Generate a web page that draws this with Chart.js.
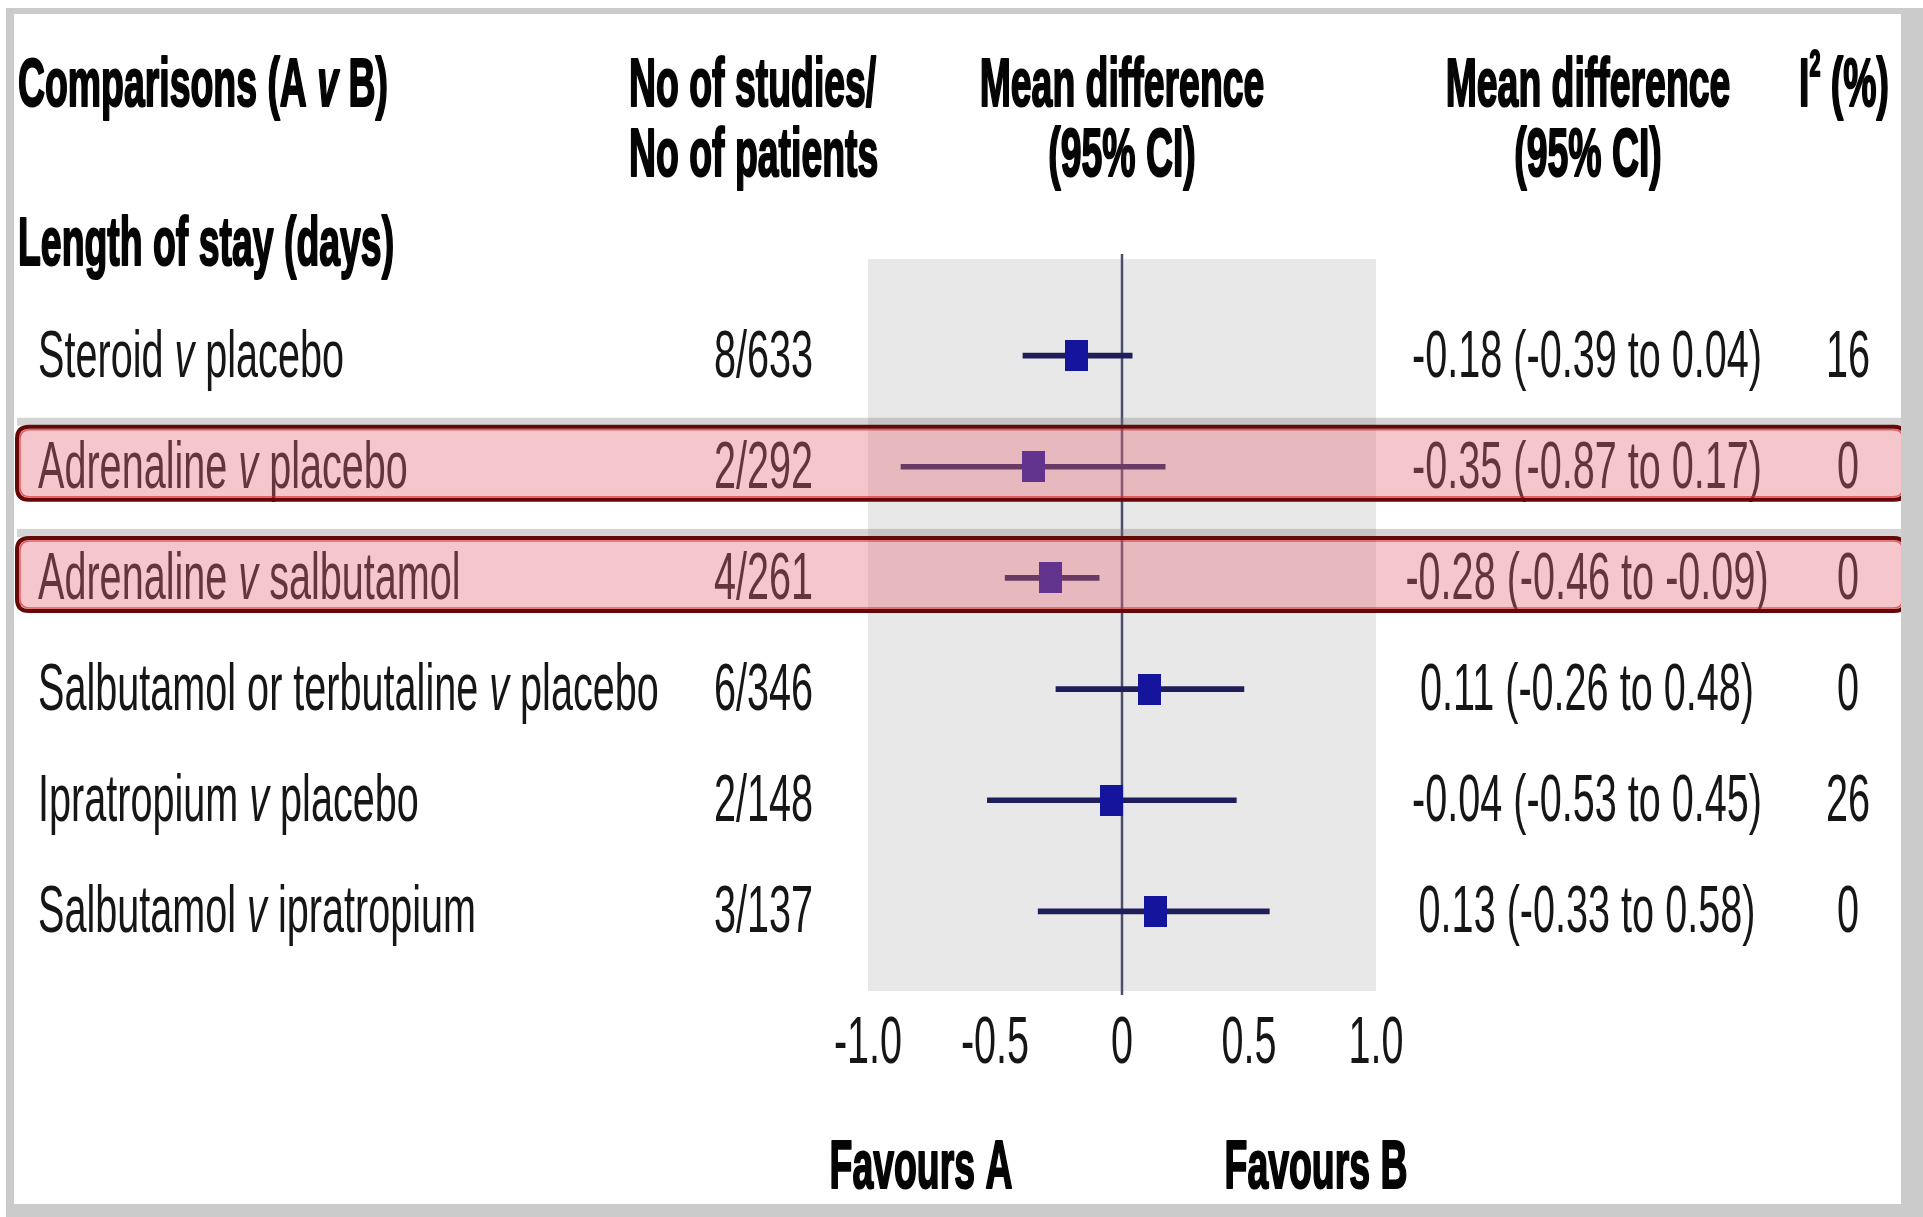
<!DOCTYPE html>
<html>
<head>
<meta charset="utf-8">
<title>Length of stay – network meta-analysis</title>
<script src="https://cdn.jsdelivr.net/npm/chart.js@4.4.1/dist/chart.umd.min.js"></script>
<style>
  html, body { margin: 0; padding: 0; background: #ffffff; }
  canvas { display: block; }
</style>
</head>
<body>
<canvas id="forest" width="1923" height="1217"></canvas>
<script>
// ---- Data -------------------------------------------------------------
const comparisons = [
  'Steroid v placebo',
  'Adrenaline v placebo',
  'Adrenaline v salbutamol',
  'Salbutamol or terbutaline v placebo',
  'Ipratropium v placebo',
  'Salbutamol v ipratropium'
];
const studiesPatients = ['8/633', '2/292', '4/261', '6/346', '2/148', '3/137'];
const meanDiff = [-0.18, -0.35, -0.28, 0.11, -0.04, 0.13];
const ciLower  = [-0.39, -0.87, -0.46, -0.26, -0.53, -0.33];
const ciUpper  = [ 0.04,  0.17, -0.09,  0.48,  0.45,  0.58];
const iSquared = [16, 0, 0, 0, 26, 0];
const highlighted = [false, true, true, false, false, false];
const tickValues = [-1, -0.5, 0, 0.5, 1];
const tickLabels = ['-1.0', '-0.5', '0', '0.5', '1.0'];

// ---- Text helpers (condensed face via horizontal scaling) ---------------
const FAMILY = '"Liberation Sans", Arial, Helvetica, sans-serif';
const REG = { size: 66, bold: false, sx: 0.6, color: '#161616', stroke: 0 };
const BOLD = { size: 68, bold: true, sx: 0.55, color: '#050505', stroke: 2.2 };

function fontOf(st, italic) {
  return (italic ? 'italic ' : '') + (st.bold ? 'bold ' : '') + st.size + 'px ' + FAMILY;
}

// segments: [{t: string, italic: bool, size?: number, dy?: number}]
function drawRich(ctx, segments, x, y, st, align) {
  ctx.save();
  let total = 0;
  const widths = segments.map(s => {
    ctx.font = fontOf(Object.assign({}, st, s.size ? { size: s.size } : {}), s.italic);
    const w = ctx.measureText(s.t).width * st.sx;
    total += w;
    return w;
  });
  let cx = align === 'center' ? x - total / 2 : align === 'right' ? x - total : x;
  ctx.fillStyle = st.color;
  ctx.strokeStyle = st.color;
  ctx.lineJoin = 'round';
  ctx.textBaseline = 'alphabetic';
  ctx.textAlign = 'left';
  segments.forEach((s, i) => {
    ctx.save();
    ctx.font = fontOf(Object.assign({}, st, s.size ? { size: s.size } : {}), s.italic);
    ctx.translate(cx, y + (s.dy || 0));
    ctx.scale(st.sx, 1);
    ctx.fillText(s.t, 0, 0);
    if (st.stroke) {
      ctx.lineWidth = st.stroke;
      ctx.strokeText(s.t, 0, 0);
    }
    ctx.restore();
    cx += widths[i];
  });
  ctx.restore();
  return total;
}

function drawText(ctx, str, x, y, st, align) {
  return drawRich(ctx, [{ t: str }], x, y, st, align);
}

// "A v B" style labels: the "v" is set in italics
function versusSegments(str) {
  const parts = str.split(' v ');
  if (parts.length !== 2) return [{ t: str }];
  return [{ t: parts[0] + ' ' }, { t: 'v', italic: true }, { t: ' ' + parts[1] }];
}

function fmt(v) {
  return v.toFixed(2);
}

function roundRect(ctx, x, y, w, h, r) {
  ctx.beginPath();
  ctx.moveTo(x + r, y);
  ctx.lineTo(x + w - r, y);
  ctx.quadraticCurveTo(x + w, y, x + w, y + r);
  ctx.lineTo(x + w, y + h - r);
  ctx.quadraticCurveTo(x + w, y + h, x + w - r, y + h);
  ctx.lineTo(x + r, y + h);
  ctx.quadraticCurveTo(x, y + h, x, y + h - r);
  ctx.lineTo(x, y + r);
  ctx.quadraticCurveTo(x, y, x + r, y);
  ctx.closePath();
}

// ---- Point marker: filled navy block ----------------------------------
const marker = document.createElement('canvas');
marker.width = 23;
marker.height = 31;
(function () {
  const m = marker.getContext('2d');
  m.fillStyle = '#14149c';
  m.fillRect(0, 0, 23, 31);
})();

// ---- Plugin: panel, zero line, table text, highlight boxes -------------
const forestPlugin = {
  id: 'forestTable',
  beforeDatasetsDraw(chart) {
    const ctx = chart.ctx;
    const xs = chart.scales.x;
    const area = chart.chartArea;
    const x0 = xs.getPixelForValue(-1);
    const x1 = xs.getPixelForValue(1);
    const top = area.top - 41;
    const bottom = area.bottom + 24;
    ctx.save();
    ctx.fillStyle = '#e8e8e8';
    ctx.fillRect(x0, top, x1 - x0, bottom - top);
    const zx = xs.getPixelForValue(0);
    ctx.strokeStyle = '#4d4d6e';
    ctx.lineWidth = 2.5;
    ctx.beginPath();
    ctx.moveTo(zx, top - 5);
    ctx.lineTo(zx, bottom + 4);
    ctx.stroke();
    ctx.restore();
  },
  afterDraw(chart) {
    const ctx = chart.ctx;
    const xs = chart.scales.x;
    const ys = chart.scales.y;

    // Column headings
    drawRich(ctx, [{ t: 'Comparisons (A ' }, { t: 'v', italic: true }, { t: ' B)' }], 18, 106, BOLD, 'left');
    drawText(ctx, 'No of studies/', 629, 106, BOLD, 'left');
    drawText(ctx, 'No of patients', 629, 176, BOLD, 'left');
    const mdX = xs.getPixelForValue(0);
    drawText(ctx, 'Mean difference', mdX, 106, BOLD, 'center');
    drawText(ctx, '(95% CI)', mdX, 176, BOLD, 'center');
    drawText(ctx, 'Mean difference', 1588, 106, BOLD, 'center');
    drawText(ctx, '(95% CI)', 1588, 176, BOLD, 'center');
    drawRich(ctx, [{ t: 'I' }, { t: '2', size: 36, dy: -30 }, { t: ' (%)' }], 1799, 106, BOLD, 'left');
    drawText(ctx, 'Length of stay (days)', 18, 265, BOLD, 'left');

    // Table rows
    comparisons.forEach((name, i) => {
      const y = ys.getPixelForValue(i) + 21;
      drawRich(ctx, versusSegments(name), 38, y, REG, 'left');
      drawText(ctx, studiesPatients[i], 813, y, REG, 'right');
      const est = fmt(meanDiff[i]) + ' (' + fmt(ciLower[i]) + ' to ' + fmt(ciUpper[i]) + ')';
      drawText(ctx, est, 1587, y, REG, 'center');
      drawText(ctx, String(iSquared[i]), 1848, y, REG, 'center');
    });

    // Axis tick labels
    tickValues.forEach((v, i) => {
      drawText(ctx, tickLabels[i], xs.getPixelForValue(v), 1063, REG, 'center');
    });
    drawText(ctx, 'Favours A', 921, 1188, BOLD, 'center');
    drawText(ctx, 'Favours B', 1316, 1188, BOLD, 'center');

    // Highlighted comparisons
    highlighted.forEach((on, i) => {
      if (!on) return;
      const cy = ys.getPixelForValue(i);
      const top = cy - 40;
      const h = 73;
      const left = 17;
      const right = 1906;
      ctx.save();
      ctx.fillStyle = 'rgba(120,120,120,0.32)';
      ctx.fillRect(left, top - 9, right - left, 8);
      roundRect(ctx, left, top, right - left, h, 12);
      ctx.fillStyle = 'rgba(228,105,118,0.38)';
      ctx.fill();
      ctx.lineWidth = 4;
      ctx.strokeStyle = '#640808';
      ctx.stroke();
      roundRect(ctx, left + 3, top + 3, right - left - 6, h - 6, 10);
      ctx.lineWidth = 1.5;
      ctx.strokeStyle = 'rgba(215,40,45,0.65)';
      ctx.stroke();
      ctx.restore();
    });

    // Outer frame
    ctx.save();
    ctx.fillStyle = '#cbcbcb';
    ctx.fillRect(6, 8, 1917, 6);
    ctx.fillRect(6, 8, 8, 1209);
    ctx.fillRect(1901, 8, 22, 1209);
    ctx.fillRect(6, 1204, 1917, 13);
    ctx.restore();
  }
};

// ---- Chart ------------------------------------------------------------
new Chart(document.getElementById('forest').getContext('2d'), {
  type: 'bar',
  data: {
    labels: comparisons,
    datasets: [
      {
        type: 'bar',
        label: '95% CI',
        data: ciLower.map((lo, i) => [lo, ciUpper[i]]),
        backgroundColor: '#1e1e5a',
        borderWidth: 0,
        barThickness: 5,
        order: 2
      },
      {
        type: 'scatter',
        label: 'Mean difference',
        data: meanDiff.map((m, i) => ({ x: m, y: comparisons[i] })),
        pointStyle: marker,
        pointRadius: 12,
        order: 1
      }
    ]
  },
  options: {
    indexAxis: 'y',
    responsive: false,
    animation: false,
    devicePixelRatio: 1,
    layout: { padding: { left: 868, right: 547, top: 300, bottom: 250 } },
    scales: {
      x: { type: 'linear', min: -1, max: 1, display: false },
      y: { type: 'category', display: false, offset: true }
    },
    plugins: {
      legend: { display: false },
      tooltip: { enabled: false }
    }
  },
  plugins: [forestPlugin]
});
</script>
</body>
</html>
